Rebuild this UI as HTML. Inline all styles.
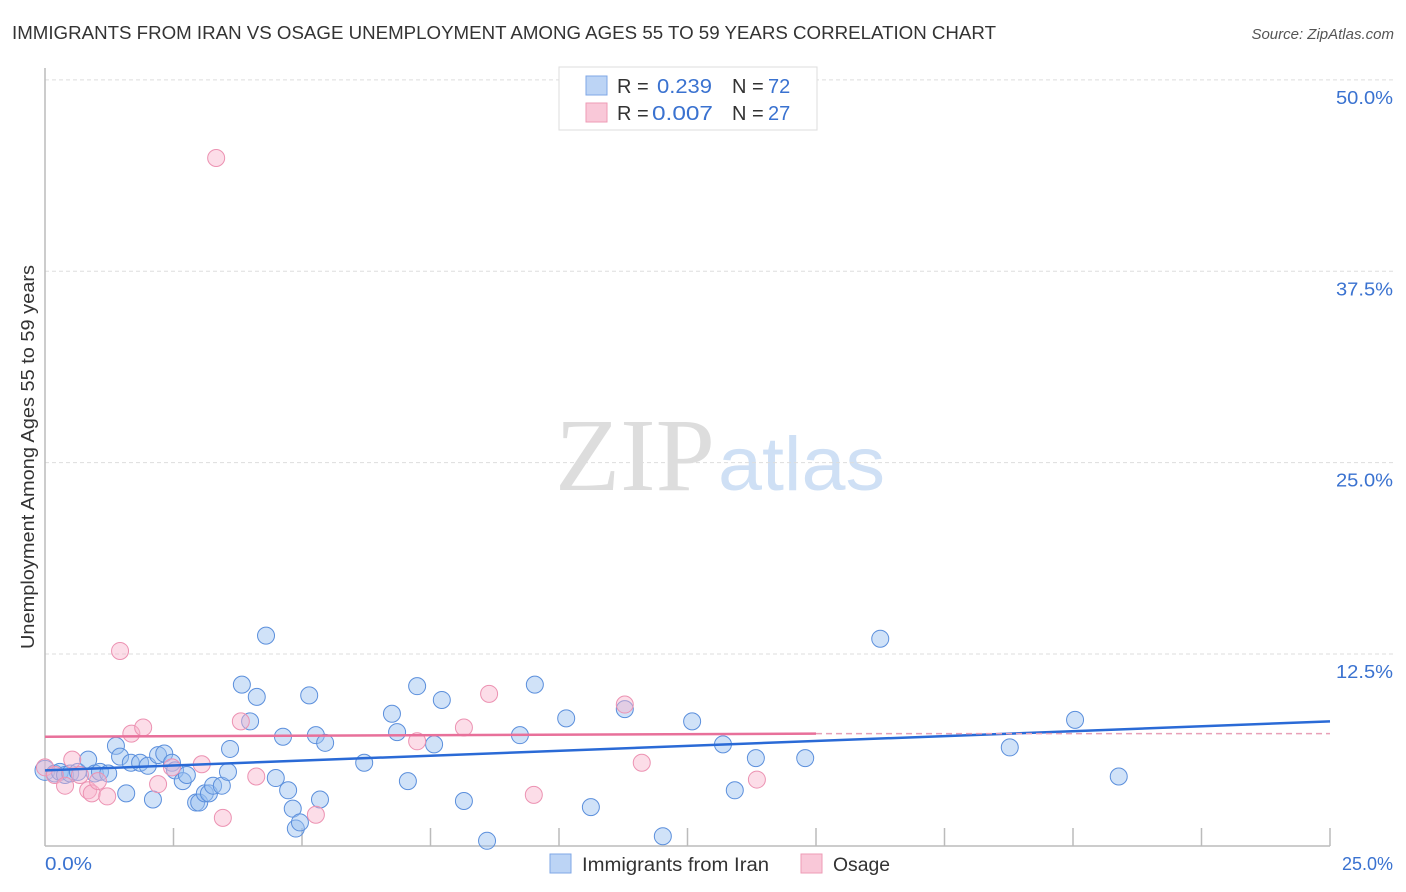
<!DOCTYPE html>
<html><head><meta charset="utf-8"><style>
body{margin:0;background:#fff;font-family:"Liberation Sans",sans-serif;}
svg{display:block}
</style></head><body>
<svg id="chart" width="1406" height="892">
<text x="12" y="39" font-size="18" fill="#333" textLength="984" lengthAdjust="spacingAndGlyphs">IMMIGRANTS FROM IRAN VS OSAGE UNEMPLOYMENT AMONG AGES 55 TO 59 YEARS CORRELATION CHART</text>
<text x="1394" y="39" font-size="15" fill="#555" font-style="italic" text-anchor="end">Source: ZipAtlas.com</text>
<text x="555" y="490" font-size="104" fill="#ddd" font-family="Liberation Serif,serif" textLength="160" lengthAdjust="spacingAndGlyphs">ZIP</text>
<text x="718" y="490" font-size="76" fill="#cfe0f5" textLength="167" lengthAdjust="spacingAndGlyphs">atlas</text>
<g id="grid"></g>
<line x1="45" y1="68" x2="45" y2="846" stroke="#bbb" stroke-width="1.5"/>
<line x1="45" y1="846" x2="1330" y2="846" stroke="#bbb" stroke-width="1.5"/>
<g id="ticks"></g>
<g id="pts"></g>
<g id="lines"></g>
<text transform="translate(34,457) rotate(-90)" font-size="18" fill="#333" text-anchor="middle" textLength="384" lengthAdjust="spacingAndGlyphs">Unemployment Among Ages 55 to 59 years</text>
<text x="45" y="870" font-size="18" fill="#3a72d0" textLength="47" lengthAdjust="spacingAndGlyphs">0.0%</text>
<text x="1393" y="870" font-size="18" fill="#3a72d0" text-anchor="end">25.0%</text>
<g>
<rect x="559" y="67" width="258" height="63" fill="#fff" stroke="#ddd"/>
<rect x="586" y="76" width="21" height="19" fill="#bcd4f5" stroke="#7fa7e6"/>
<rect x="586" y="103" width="21" height="19" fill="#f9c8d8" stroke="#ee9bb6"/>
<g font-size="20">
<text x="617" y="93" fill="#333">R =</text>
<text x="657" y="93" fill="#3a72d0" textLength="55" lengthAdjust="spacingAndGlyphs">0.239</text>
<text x="732" y="93" fill="#333">N =</text>
<text x="768" y="93" fill="#3a72d0">72</text>
</g>
<g font-size="20">
<text x="617" y="120" fill="#333">R =</text>
<text x="652" y="120" fill="#3a72d0" textLength="61" lengthAdjust="spacingAndGlyphs">0.007</text>
<text x="732" y="120" fill="#333">N =</text>
<text x="768" y="120" fill="#3a72d0">27</text>
</g>
</g>
<rect x="550" y="854" width="21" height="19" fill="#bcd4f5" stroke="#7fa7e6"/>
<text x="582" y="871" font-size="19" fill="#333" textLength="187" lengthAdjust="spacingAndGlyphs">Immigrants from Iran</text>
<rect x="801" y="854" width="21" height="19" fill="#f9c8d8" stroke="#ee9bb6"/>
<text x="833" y="871" font-size="19" fill="#333" textLength="57" lengthAdjust="spacingAndGlyphs">Osage</text>
</svg>
<script>
const yTicks=[12.5,25,37.5,50];
const yTickLabels=["12.5%","25.0%","37.5%","50.0%"];
const xTicks=[2.5,5,7.5,10,12.5,15,17.5,20,22.5,25];
const iranX=[0,0.19,0.29,0.39,0.49,0.64,0.84,0.97,1.07,1.23,1.38,1.46,1.58,1.67,1.85,2.0,2.1,2.2,2.32,2.47,2.53,2.68,2.76,2.94,3.0,3.11,3.19,3.27,3.44,3.56,3.6,3.83,3.99,4.12,4.3,4.49,4.63,4.73,4.82,4.88,4.96,5.14,5.27,5.35,5.45,6.21,6.75,6.85,7.06,7.24,7.57,7.72,8.15,8.6,9.24,9.53,10.14,10.62,11.28,12.02,12.59,13.19,13.42,13.83,14.79,16.25,18.77,20.04,20.89];
const iranY=[4.9,4.7,4.8,4.6,4.7,4.8,5.6,4.7,4.8,4.7,6.5,5.8,3.4,5.4,5.4,5.2,3.0,5.9,6.0,5.4,4.9,4.2,4.6,2.8,2.8,3.4,3.4,3.9,3.9,4.8,6.3,10.5,8.1,9.7,13.7,4.4,7.1,3.6,2.4,1.1,1.5,9.8,7.2,3.0,6.7,5.4,8.6,7.4,4.2,10.4,6.6,9.5,2.9,0.3,7.2,10.5,8.3,2.5,8.9,0.6,8.1,6.6,3.6,5.7,5.7,13.5,6.4,8.2,4.5];
const osageX=[0,0.19,0.39,0.53,0.68,0.84,0.91,1.03,1.21,1.46,1.68,1.91,2.2,2.47,3.05,3.33,3.46,3.81,4.11,5.27,7.24,8.15,8.64,9.51,11.28,11.61,13.85];
const osageY=[5.1,4.6,3.9,5.6,4.6,3.6,3.4,4.2,3.2,12.7,7.3,7.7,4.0,5.1,5.3,44.9,1.8,8.1,4.5,2.0,6.8,7.7,9.9,3.3,9.2,5.4,4.3];
const iranTrend=[4.9,8.1];
const osageTrend=[7.1,7.3,7.3];
const X=v=>45+v*51.4, Y=v=>845.4-v*15.31;
const NS="http://www.w3.org/2000/svg";
function mk(t,a,p){const e=document.createElementNS(NS,t);for(const k in a)e.setAttribute(k,a[k]);p.appendChild(e);return e;}
const grid=document.getElementById('grid');
yTicks.forEach((v,i)=>{
 const l=mk('line',{x1:45,x2:1393,y1:Y(v),y2:Y(v),stroke:'#ddd','stroke-dasharray':'4,3'},grid);
 
 
 const t=mk('text',{x:1393,y:Y(v)+24,'font-size':18,fill:'#3a72d0','text-anchor':'end',textLength:57,lengthAdjust:'spacingAndGlyphs'},grid);
 t.textContent=yTickLabels[i];
 
 
});
const ticks=document.getElementById('ticks');
xTicks.forEach(v=>{
 const l=mk('line',{x1:X(v),x2:X(v),y1:828,y2:846,stroke:'#bbb','stroke-width':1.5},ticks);
 
 
});
const pts=document.getElementById('pts');
iranX.forEach((x,i)=>{
 const c=mk('circle',{cx:X(x),cy:Y(iranY[i]),r:i==0?10:8.5,fill:'rgba(150,190,240,0.45)',stroke:'#5b8fdc','stroke-width':1},pts);
 
 
});
osageX.forEach((x,i)=>{
 const c=mk('circle',{cx:X(x),cy:Y(osageY[i]),r:8.5,fill:'rgba(248,180,205,0.45)',stroke:'#ec92b2','stroke-width':1},pts);
 
 
});
const lines=document.getElementById('lines');
let l=mk('line',{x1:X(0),y1:Y(iranTrend[0]),x2:X(25),y2:Y(iranTrend[1]),stroke:'#2a6ad6','stroke-width':2.5},lines);


l=mk('line',{x1:X(0),y1:Y(osageTrend[0]),x2:X(15),y2:Y(osageTrend[1]),stroke:'#e8709a','stroke-width':2.5},lines);


l=mk('line',{x1:X(15),y1:Y(osageTrend[1]),x2:X(25),y2:Y(osageTrend[2]),stroke:'#e8a0b8','stroke-width':1.5,'stroke-dasharray':'6,4'},lines);


</script>
</body></html>
